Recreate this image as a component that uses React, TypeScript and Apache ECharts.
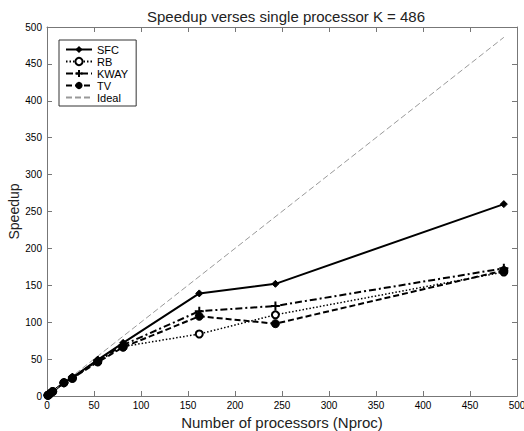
import React, { useEffect, useRef } from "react";
import * as echarts from "echarts";

const procs = [1, 3, 6, 18, 27, 54, 81, 162, 243, 486];
const sfc = [1, 3, 6, 18, 25, 49, 72, 139, 152, 260];
const rb = [1, 3, 6, 18, 24, 47, 67, 84, 110, 168];
const kway = [1, 3, 6, 18, 25, 48, 69, 115, 122, 173];
const tv = [1, 3, 6, 18, 24, 46, 66, 108, 98, 170];
const ideal = [0, 486];
const idealX = [0, 486];

const pair = (xs: number[], ys: number[]) => xs.map((x, i) => [x, ys[i]]);

export default function App() {
  const ref = useRef<HTMLDivElement>(null);
  useEffect(() => {
    if (!ref.current) return;
    const chart = echarts.init(ref.current, null, { renderer: "svg" });
    const axisCommon = {
      type: "value" as const,
      min: 0,
      max: 500,
      interval: 50,
      splitLine: { show: false },
      axisLine: { show: true, onZero: false, lineStyle: { color: "#777", width: 1 } },
      axisTick: { show: true, inside: true, length: 5, lineStyle: { color: "#777" } },
    };
    chart.setOption({
      animation: false,
      backgroundColor: "#fff",
      textStyle: { fontFamily: "Liberation Sans, Arial, sans-serif" },
      title: {
        text: "Speedup verses single processor K = 486",
        left: 281,
        textAlign: "center",
        top: 4,
        textStyle: { fontSize: 15, fontWeight: "normal", color: "#222" },
      },
      grid: { left: 47, right: 7, top: 27, bottom: 35, containLabel: false, outerBoundsMode: "none" },
      legend: {
        orient: "vertical",
        left: 59,
        top: 40,
        padding: [4, 8, 3, 6],
        itemGap: 1,
        itemWidth: 26,
        itemHeight: 9,
        borderColor: "#333",
        borderWidth: 1,
        backgroundColor: "#fff",
        textStyle: { fontSize: 11, color: "#000" },
        data: [
          "SFC",
          "RB",
          "KWAY",
          "TV",
          { name: "Ideal", itemStyle: { color: "transparent", borderColor: "transparent", opacity: 0 } },
        ],
      },
      xAxis: [
        {
          ...axisCommon,
          position: "bottom",
          name: "Number of processors (Nproc)",
          nameLocation: "middle",
          nameGap: 18,
          nameTextStyle: { fontSize: 15, color: "#222" },
          axisLabel: { fontSize: 10, color: "#000", margin: 4 },
        },
        { ...axisCommon, position: "top", axisLabel: { show: false } },
      ],
      yAxis: [
        {
          ...axisCommon,
          position: "left",
          name: "Speedup",
          nameLocation: "middle",
          nameGap: 26,
          nameMoveOverlap: false,
          nameTextStyle: { fontSize: 14, color: "#222" },
          axisLabel: { fontSize: 10, color: "#000", margin: 5 },
        },
        { ...axisCommon, position: "right", axisLabel: { show: false } },
      ],
      series: [
        {
          name: "SFC",
          type: "line",
          data: pair(procs, sfc),
          symbol: "diamond",
          symbolSize: 7,
          lineStyle: { color: "#000", width: 2, type: "solid" },
          itemStyle: { color: "#000", borderColor: "#000" },
        },
        {
          name: "RB",
          type: "line",
          data: pair(procs, rb),
          symbol: "circle",
          symbolSize: 7,
          lineStyle: { color: "#000", width: 1.5, type: [1.5, 2] },
          itemStyle: { color: "#fff", borderColor: "#000", borderWidth: 2 },
        },
        {
          name: "KWAY",
          type: "line",
          data: pair(procs, kway),
          symbol: "path://M0,5L10,5M5,0L5,10",
          symbolSize: 9,
          lineStyle: { color: "#000", width: 2, type: [7, 3, 2, 3] },
          itemStyle: { color: "#000", borderColor: "#000", borderWidth: 2 },
        },
        {
          name: "TV",
          type: "line",
          data: pair(procs, tv),
          symbol: "circle",
          symbolSize: 8,
          lineStyle: { color: "#000", width: 2, type: [6, 3] },
          itemStyle: { color: "#000", borderColor: "#000" },
        },
        {
          name: "Ideal",
          type: "line",
          data: pair(idealX, ideal),
          symbol: "none",
          lineStyle: { color: "#999", width: 1, type: [6, 3] },
          itemStyle: { color: "#999" },
        },
      ],
    });
    return () => chart.dispose();
  }, []);
  return (
    <div
      ref={ref}
      style={{ position: "fixed", left: 0, top: 0, width: 524, height: 431 }}
    />
  );
}
